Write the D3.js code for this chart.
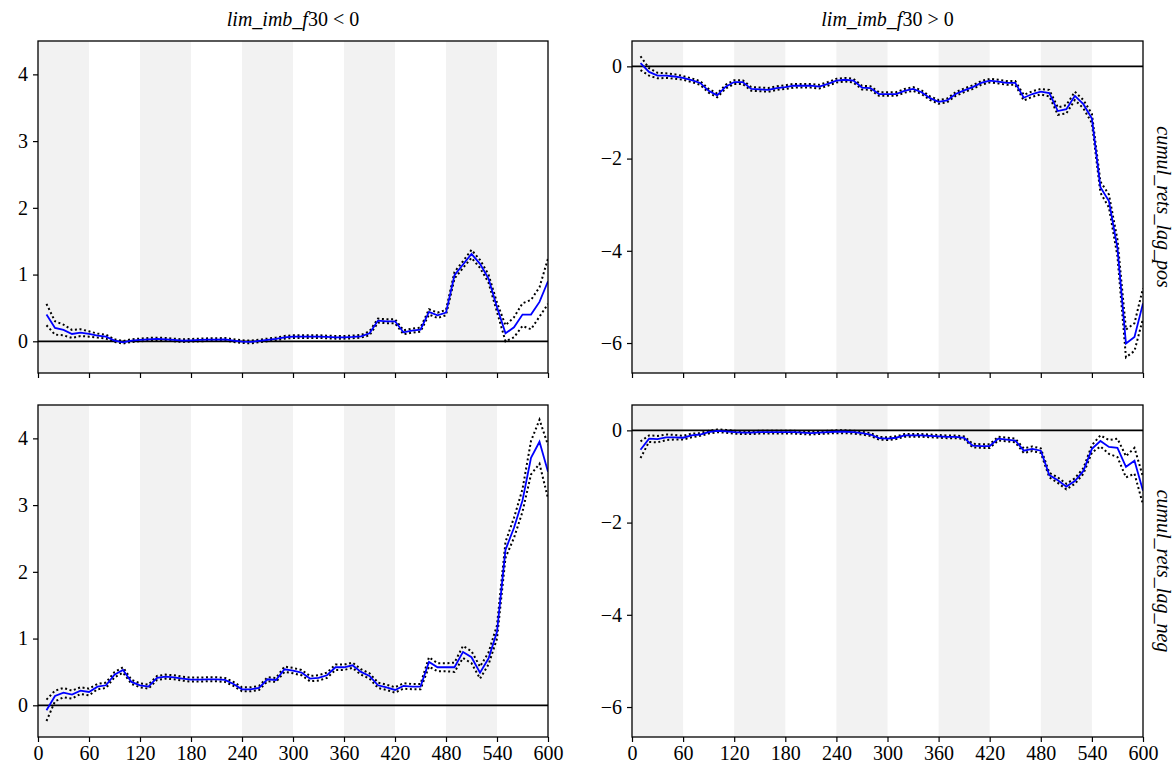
<!DOCTYPE html>
<html>
<head>
<meta charset="utf-8">
<script src="https://d3js.org/d3.v7.min.js"></script>
<style>
  body { margin: 0; background: #fff; }
  .domain { display: none; }
</style>
</head>
<body>
<div id="chart"></div>
<script>
// Lag in seconds (x axis)
const lags = d3.range(10, 601, 10);

// Shaded intervals
const bands = [[0, 60], [120, 180], [240, 300], [360, 420], [480, 540]];

const xTicks = [0, 60, 120, 180, 240, 300, 360, 420, 480, 540, 600];
const yTicksLeft = [0, 1, 2, 3, 4];
const yTicksRight = [0, -2, -4, -6];

const colTitles = ["< 0", "> 0"];
const rowTitles = ["cumul_rets_lag_pos", "cumul_rets_lag_neg"];

// lim_imb_f30 < 0, cumul_rets_lag_pos
const negPosMean = [0.40, 0.20, 0.17, 0.11, 0.13, 0.11, 0.085, 0.07, 0.01, -0.015,
  0.01, 0.02, 0.03, 0.035, 0.03, 0.02, 0.01, 0.015, 0.02, 0.025,
  0.025, 0.03, 0.01, -0.005, -0.01, 0.005, 0.02, 0.035, 0.06, 0.07,
  0.07, 0.07, 0.07, 0.065, 0.06, 0.06, 0.065, 0.075, 0.12, 0.31,
  0.30, 0.30, 0.135, 0.16, 0.175, 0.44, 0.39, 0.43, 0.99, 1.15,
  1.31, 1.16, 0.94, 0.51, 0.12, 0.21, 0.40, 0.40, 0.59, 0.90];
const negPosCi = [0.16, 0.10, 0.08, 0.06, 0.05, 0.04, 0.03, 0.03, 0.02, 0.02,
  0.02, 0.02, 0.02, 0.02, 0.02, 0.02, 0.02, 0.02, 0.02, 0.02,
  0.02, 0.02, 0.02, 0.02, 0.02, 0.02, 0.02, 0.02, 0.02, 0.02,
  0.02, 0.02, 0.02, 0.02, 0.02, 0.02, 0.02, 0.02, 0.03, 0.03,
  0.03, 0.03, 0.03, 0.03, 0.03, 0.04, 0.04, 0.04, 0.05, 0.05,
  0.06, 0.06, 0.06, 0.07, 0.12, 0.15, 0.17, 0.22, 0.22, 0.34];

// lim_imb_f30 < 0, cumul_rets_lag_neg
const negNegMean = [-0.075, 0.14, 0.19, 0.16, 0.22, 0.20, 0.28, 0.30, 0.46, 0.53,
  0.35, 0.30, 0.28, 0.41, 0.43, 0.42, 0.40, 0.385, 0.385, 0.39,
  0.39, 0.38, 0.32, 0.24, 0.24, 0.26, 0.39, 0.38, 0.54, 0.52,
  0.49, 0.40, 0.41, 0.45, 0.57, 0.57, 0.60, 0.50, 0.44, 0.30,
  0.27, 0.23, 0.29, 0.28, 0.28, 0.65, 0.57, 0.57, 0.57, 0.80,
  0.72, 0.49, 0.70, 1.10, 2.33, 2.66, 3.07, 3.71, 3.95, 3.50];
const negNegCi = [0.16, 0.08, 0.07, 0.06, 0.05, 0.05, 0.04, 0.04, 0.04, 0.04,
  0.03, 0.03, 0.03, 0.03, 0.03, 0.03, 0.03, 0.03, 0.03, 0.03,
  0.03, 0.03, 0.03, 0.03, 0.03, 0.03, 0.03, 0.03, 0.04, 0.04,
  0.04, 0.04, 0.04, 0.04, 0.04, 0.04, 0.04, 0.04, 0.04, 0.04,
  0.04, 0.04, 0.04, 0.04, 0.04, 0.07, 0.06, 0.06, 0.07, 0.09,
  0.09, 0.09, 0.09, 0.10, 0.12, 0.15, 0.17, 0.25, 0.33, 0.40];

// lim_imb_f30 > 0, cumul_rets_lag_pos
const posPosMean = [0.07, -0.12, -0.20, -0.20, -0.22, -0.25, -0.30, -0.36, -0.53, -0.63,
  -0.44, -0.34, -0.34, -0.49, -0.50, -0.51, -0.47, -0.45, -0.42, -0.42,
  -0.42, -0.44, -0.38, -0.31, -0.29, -0.31, -0.46, -0.47, -0.60, -0.60,
  -0.60, -0.53, -0.49, -0.56, -0.69, -0.77, -0.74, -0.60, -0.52, -0.45,
  -0.36, -0.31, -0.33, -0.36, -0.36, -0.68, -0.60, -0.55, -0.58, -0.97,
  -0.93, -0.64, -0.82, -1.13, -2.62, -2.92, -3.94, -6.01, -5.87, -5.14];
const posPosCi = [0.15, 0.08, 0.06, 0.05, 0.05, 0.04, 0.04, 0.04, 0.04, 0.04,
  0.04, 0.04, 0.04, 0.04, 0.04, 0.04, 0.04, 0.04, 0.04, 0.04,
  0.04, 0.04, 0.04, 0.04, 0.04, 0.04, 0.04, 0.04, 0.04, 0.04,
  0.04, 0.04, 0.04, 0.04, 0.04, 0.04, 0.04, 0.04, 0.04, 0.04,
  0.04, 0.04, 0.04, 0.04, 0.04, 0.06, 0.06, 0.06, 0.07, 0.08,
  0.09, 0.09, 0.09, 0.10, 0.12, 0.14, 0.18, 0.30, 0.30, 0.33];

// lim_imb_f30 > 0, cumul_rets_lag_neg
const posNegMean = [-0.42, -0.18, -0.19, -0.15, -0.15, -0.16, -0.11, -0.09, -0.04, -0.01,
  -0.02, -0.04, -0.05, -0.05, -0.04, -0.04, -0.04, -0.04, -0.04, -0.05,
  -0.06, -0.05, -0.04, -0.03, -0.03, -0.04, -0.06, -0.09, -0.17, -0.18,
  -0.16, -0.11, -0.11, -0.11, -0.12, -0.13, -0.14, -0.14, -0.16, -0.33,
  -0.34, -0.34, -0.18, -0.20, -0.22, -0.44, -0.40, -0.44, -0.97, -1.08,
  -1.22, -1.10, -0.88, -0.40, -0.23, -0.36, -0.38, -0.79, -0.66, -1.31];
const posNegCi = [0.18, 0.07, 0.07, 0.06, 0.05, 0.04, 0.04, 0.03, 0.03, 0.03,
  0.03, 0.03, 0.03, 0.03, 0.03, 0.03, 0.03, 0.03, 0.03, 0.03,
  0.03, 0.03, 0.03, 0.03, 0.03, 0.03, 0.03, 0.03, 0.03, 0.03,
  0.03, 0.03, 0.03, 0.03, 0.03, 0.03, 0.03, 0.03, 0.03, 0.04,
  0.04, 0.04, 0.04, 0.04, 0.04, 0.05, 0.05, 0.05, 0.05, 0.06,
  0.06, 0.06, 0.06, 0.08, 0.12, 0.15, 0.20, 0.23, 0.28, 0.30];

const panels = [
  { row: 0, col: 0, mean: negPosMean, ci: negPosCi },
  { row: 0, col: 1, mean: posPosMean, ci: posPosCi },
  { row: 1, col: 0, mean: negNegMean, ci: negNegCi },
  { row: 1, col: 1, mean: posNegMean, ci: posNegCi }
];

const width = 1175, height = 773;
const serif = "'Liberation Serif', 'DejaVu Serif', 'Times New Roman', serif";

// Panel frames (pixels)
const colX = [[38, 548], [632, 1143]];
const rowY = [[41, 373], [405, 737]];
const yDomains = [[-0.475, 4.5], [-6.65, 0.55]];

const svg = d3.select("#chart").append("svg")
  .attr("width", width)
  .attr("height", height)
  .attr("font-family", serif);

panels.forEach(p => {
  const [x0, x1] = colX[p.col];
  const [y0, y1] = rowY[p.row];

  const x = d3.scaleLinear().domain([0, 600]).range([x0, x1]);
  const y = d3.scaleLinear().domain(yDomains[p.col]).range([y1, y0]);

  const g = svg.append("g");
  const clipId = `clip-${p.row}-${p.col}`;
  g.append("clipPath").attr("id", clipId)
    .append("rect").attr("x", x0).attr("y", y0).attr("width", x1 - x0).attr("height", y1 - y0);

  // Grey time bands
  g.selectAll(".band")
    .data(bands)
    .enter().append("rect")
    .attr("x", d => x(d[0]))
    .attr("width", d => x(d[1]) - x(d[0]))
    .attr("y", y0)
    .attr("height", y1 - y0)
    .attr("fill", "#f2f2f2");

  const plot = g.append("g").attr("clip-path", `url(#${clipId})`);

  // Zero line
  plot.append("line")
    .attr("x1", x0).attr("x2", x1)
    .attr("y1", y(0)).attr("y2", y(0))
    .attr("stroke", "#000")
    .attr("stroke-width", 1.8);

  const upper = p.mean.map((m, i) => m + p.ci[i]);
  const lower = p.mean.map((m, i) => m - p.ci[i]);

  const line = d3.line()
    .x((d, i) => x(lags[i]))
    .y(d => y(d));

  [upper, lower].forEach(s => {
    plot.append("path")
      .attr("d", line(s))
      .attr("fill", "none")
      .attr("stroke", "#000")
      .attr("stroke-width", 2)
      .attr("stroke-dasharray", "2,2.6");
  });

  plot.append("path")
    .attr("d", line(p.mean))
    .attr("fill", "none")
    .attr("stroke", "#0000ff")
    .attr("stroke-width", 1.8);

  // Axes
  const yTicks = p.col === 0 ? yTicksLeft : yTicksRight;
  g.append("g")
    .attr("transform", `translate(${x0},0)`)
    .call(d3.axisLeft(y).tickValues(yTicks).tickSize(5).tickPadding(5).tickFormat(d3.format("d")))
    .call(a => a.attr("font-family", serif).attr("font-size", 20))
    .call(a => a.selectAll(".tick line").attr("stroke-width", 1.2));

  const xAxis = d3.axisBottom(x).tickValues(xTicks).tickSize(5).tickPadding(4);
  if (p.row === 0) xAxis.tickFormat("");
  g.append("g")
    .attr("transform", `translate(0,${y1})`)
    .call(xAxis)
    .call(a => a.attr("font-family", serif).attr("font-size", 20))
    .call(a => a.selectAll(".tick line").attr("stroke-width", 1.2));

  // Frame
  g.append("rect")
    .attr("x", x0).attr("y", y0)
    .attr("width", x1 - x0).attr("height", y1 - y0)
    .attr("fill", "none")
    .attr("stroke", "#000")
    .attr("stroke-width", 1.3);
});

// Column titles
colTitles.forEach((t, c) => {
  const cx = (colX[c][0] + colX[c][1]) / 2;
  const txt = svg.append("text")
    .attr("x", cx).attr("y", 26)
    .attr("text-anchor", "middle")
    .attr("font-size", 20);
  txt.append("tspan").attr("font-style", "italic").text("lim_imb_f");
  txt.append("tspan").text("30 " + t);
});

// Row titles on the right
rowTitles.forEach((t, r) => {
  const cy = (rowY[r][0] + rowY[r][1]) / 2;
  svg.append("text")
    .attr("transform", `translate(1157,${cy}) rotate(90)`)
    .attr("text-anchor", "middle")
    .attr("font-size", 20)
    .attr("font-style", "italic")
    .text(t);
});
</script>
</body>
</html>
